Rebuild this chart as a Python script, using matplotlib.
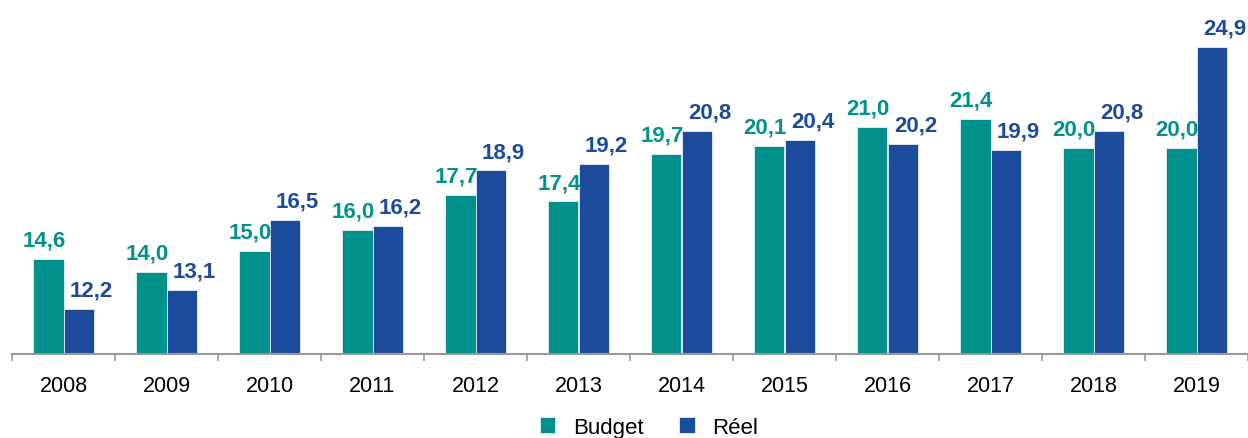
import numpy as np
import matplotlib
matplotlib.use('Agg')
import matplotlib.pyplot as plt
from matplotlib.ticker import FixedLocator

plt.rcParams['font.family'] = ['Liberation Sans', 'DejaVu Sans']

years = ['2008', '2009', '2010', '2011', '2012', '2013',
         '2014', '2015', '2016', '2017', '2018', '2019']
budget = [14.6, 14.0, 15.0, 16.0, 17.7, 17.4, 19.7, 20.1, 21.0, 21.4, 20.0, 20.0]
reel = [12.2, 13.1, 16.5, 16.2, 18.9, 19.2, 20.8, 20.4, 20.2, 19.9, 20.8, 24.9]

teal = '#00918D'
blue = '#1D4B9B'

fig = plt.figure(figsize=(12.48, 4.39), dpi=100)
ax = fig.add_axes([12 / 1248, 1 - 355 / 439, 1 - 12 / 1248, 330 / 439])

x = np.arange(len(years))
w = 0.3
ax.bar(x - w / 2, budget, w, bottom=0, color=teal, label='Budget', zorder=2,
       edgecolor='#e8eef5', linewidth=0.6)
ax.bar(x + w / 2, reel, w, bottom=0, color=blue, label='Réel', zorder=2,
       edgecolor='#e8eef5', linewidth=0.6)

# value labels, budget slightly left, reel slightly right
for i in range(len(years)):
    ax.annotate(f'{budget[i]:.1f}'.replace('.', ','), (x[i] - w / 2, budget[i]),
                xytext=(-3, 6), textcoords='offset points', ha='center', va='bottom',
                fontsize=16, fontweight='bold', color=teal)
    ax.annotate(f'{reel[i]:.1f}'.replace('.', ','), (x[i] + w / 2, reel[i]),
                xytext=(9, 6), textcoords='offset points', ha='center', va='bottom',
                fontsize=16, fontweight='bold', color=blue)

ax.set_xlim(-0.5, len(years) - 0.5)
ax.set_ylim(10, 26)
ax.set_yticks([])
ax.set_xticks(x)
ax.set_xticklabels(years, fontsize=15.5)
ax.tick_params(axis='x', which='major', length=0, pad=15)
ax.xaxis.set_minor_locator(FixedLocator(np.arange(-0.5, len(years), 1.0)))
ax.tick_params(axis='x', which='minor', length=5, width=1.2, color='#999999', direction='out')

for s in ['top', 'right', 'left']:
    ax.spines[s].set_visible(False)
ax.spines['bottom'].set_color('#999999')
ax.spines['bottom'].set_linewidth(1.5)

leg = fig.legend(loc='center', bbox_to_anchor=(0.52, 0.024), ncol=2, frameon=False,
                 fontsize=16, handlelength=0.7, handleheight=0.7, columnspacing=1.6,
                 handletextpad=0.8)

fig.savefig('out.png', dpi=100)
